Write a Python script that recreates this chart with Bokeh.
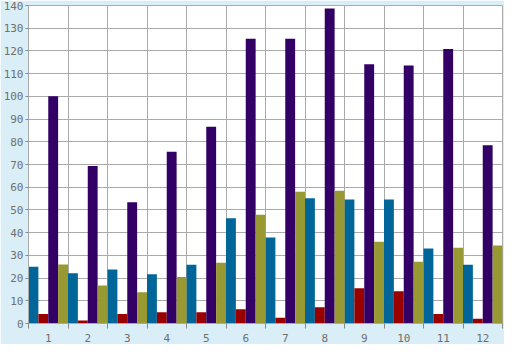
from bokeh.plotting import figure
from bokeh.models import ColumnDataSource, FixedTicker, Range1d
from bokeh.transform import dodge
from bokeh.embed import file_html
from bokeh.resources import INLINE

categories = [1, 2, 3, 4, 5, 6, 7, 8, 9, 10, 11, 12]
blue_vals = [25.0, 22.1, 23.8, 21.7, 25.9, 46.3, 37.9, 55.1, 54.6, 54.6, 33.0, 25.9]
red_vals = [4.2, 1.3, 4.2, 5.0, 5.0, 6.3, 2.5, 7.1, 15.5, 14.2, 4.2, 2.1]
purple_vals = [100.0, 69.3, 53.4, 75.6, 86.6, 125.4, 125.4, 138.7, 114.1, 113.6, 120.8, 78.5]
olive_vals = [26.0, 16.7, 13.8, 20.5, 26.7, 47.9, 58.0, 58.4, 36.0, 27.2, 33.4, 34.3]
y_ticks = [0, 10, 20, 30, 40, 50, 60, 70, 80, 90, 100, 110, 120, 130, 140]

source = ColumnDataSource(data=dict(
    x=categories, blue=blue_vals, red=red_vals, purple=purple_vals, olive=olive_vals))

p = figure(width=504, height=344, output_backend="svg", toolbar_location=None,
           x_range=Range1d(0.5, 12.5), y_range=Range1d(0, 140),
           min_border_left=26, min_border_right=2, min_border_top=5, min_border_bottom=17)

p.border_fill_color = "#d9eef6"
p.background_fill_color = "white"
p.outline_line_color = "#aaaaaa"

series = [("blue", "#006699", -0.375), ("red", "#990000", -0.125),
          ("purple", "#330066", 0.125), ("olive", "#999933", 0.375)]
for col, color, off in series:
    p.vbar(x=dodge("x", off, range=p.x_range), top=col, bottom=0, width=0.25,
           source=source, fill_color=color, line_color=None)

bounds = [c + 0.5 for c in categories[:-1]]
p.xaxis.ticker = FixedTicker(ticks=categories, minor_ticks=[0.5] + bounds + [12.5])
p.xgrid.ticker = FixedTicker(ticks=bounds)
p.yaxis.ticker = FixedTicker(ticks=y_ticks)
p.ygrid.ticker = FixedTicker(ticks=y_ticks[1:-1])

for g in (p.xgrid, p.ygrid):
    g.grid_line_color = "#aaaaaa"
    g.grid_line_width = 1

for ax in (p.xaxis, p.yaxis):
    ax.axis_line_color = "#aaaaaa"
    ax.major_label_text_font = "DejaVu Sans Mono"
    ax.major_label_text_font_size = "11px"
    ax.major_label_text_color = "#707070"
    ax.major_tick_line_color = "#888888"
    ax.minor_tick_line_color = "#888888"
    ax.major_tick_in = 0

p.xaxis.major_tick_out = 0
p.xaxis.minor_tick_in = 0
p.xaxis.minor_tick_out = 5
p.xaxis.major_label_standoff = 5
p.yaxis.major_tick_out = 3
p.yaxis.major_label_standoff = 2
p.yaxis.minor_tick_out = 0
p.yaxis.minor_tick_in = 0

open("out.html", "w").write(file_html(p, INLINE))
